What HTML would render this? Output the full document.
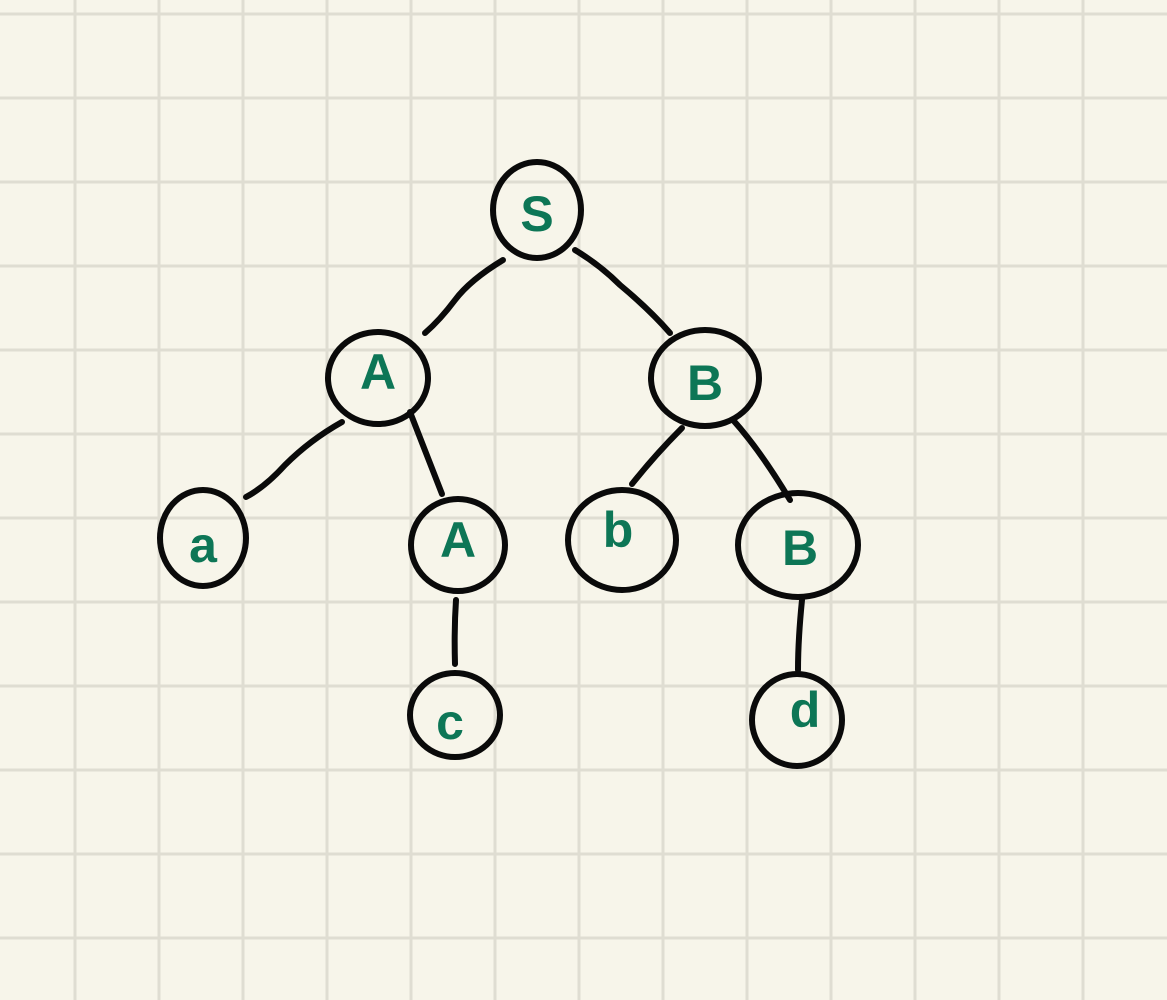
<!DOCTYPE html>
<html><head><style>
html,body{margin:0;padding:0;background:#f7f5ea;}
svg{display:block}
text{font-family:"Liberation Sans",sans-serif;fill:#0d7656;font-size:50px;font-weight:bold;text-anchor:middle;dominant-baseline:central}
</style></head><body>
<svg width="1167" height="1000" viewBox="0 0 1167 1000">
<rect width="1167" height="1000" fill="#f7f5ea"/>
<g stroke="#dfddd2" stroke-width="3">
<line x1="75" y1="0" x2="75" y2="1000"/><line x1="159" y1="0" x2="159" y2="1000"/><line x1="243" y1="0" x2="243" y2="1000"/><line x1="327" y1="0" x2="327" y2="1000"/><line x1="411" y1="0" x2="411" y2="1000"/><line x1="495" y1="0" x2="495" y2="1000"/><line x1="579" y1="0" x2="579" y2="1000"/><line x1="663" y1="0" x2="663" y2="1000"/><line x1="747" y1="0" x2="747" y2="1000"/><line x1="831" y1="0" x2="831" y2="1000"/><line x1="915" y1="0" x2="915" y2="1000"/><line x1="999" y1="0" x2="999" y2="1000"/><line x1="1083" y1="0" x2="1083" y2="1000"/>
<line x1="0" y1="14" x2="1167" y2="14"/><line x1="0" y1="98" x2="1167" y2="98"/><line x1="0" y1="182" x2="1167" y2="182"/><line x1="0" y1="266" x2="1167" y2="266"/><line x1="0" y1="350" x2="1167" y2="350"/><line x1="0" y1="434" x2="1167" y2="434"/><line x1="0" y1="518" x2="1167" y2="518"/><line x1="0" y1="602" x2="1167" y2="602"/><line x1="0" y1="686" x2="1167" y2="686"/><line x1="0" y1="770" x2="1167" y2="770"/><line x1="0" y1="854" x2="1167" y2="854"/><line x1="0" y1="938" x2="1167" y2="938"/>
</g>
<g stroke="#0a0a0a" stroke-width="6" fill="none" stroke-linecap="round">
<ellipse cx="537" cy="210" rx="44" ry="48"/>
<ellipse cx="378" cy="378" rx="50" ry="46"/>
<ellipse cx="705" cy="378" rx="54" ry="48"/>
<ellipse cx="203" cy="538" rx="43" ry="48"/>
<ellipse cx="458" cy="545" rx="47" ry="46"/>
<ellipse cx="622" cy="540" rx="54" ry="50"/>
<ellipse cx="798" cy="545" rx="60" ry="52"/>
<ellipse cx="455" cy="715" rx="45" ry="42"/>
<ellipse cx="797" cy="720" rx="45" ry="46"/>
<path d="M503 260 Q470 280 455 300 Q440 320 425 333"/>
<path d="M575 250 Q600 265 620 285 Q650 310 670 333"/>
<path d="M342 422 Q310 440 285 465 Q265 487 246 497"/>
<path d="M410 412 Q425 450 442 494"/>
<path d="M682 428 Q655 455 632 484"/>
<path d="M733 420 Q760 450 790 500"/>
<path d="M456 600 Q454 630 455 664"/>
<path d="M802 600 Q798 640 798 670"/>
</g>
<text x="537" y="214">S</text>
<text x="378" y="372">A</text>
<text x="705" y="383">B</text>
<text x="203" y="545">a</text>
<text x="458" y="540">A</text>
<text x="618" y="530">b</text>
<text x="800" y="548">B</text>
<text x="450" y="722">c</text>
<text x="805" y="710">d</text>
</svg>
</body></html>
